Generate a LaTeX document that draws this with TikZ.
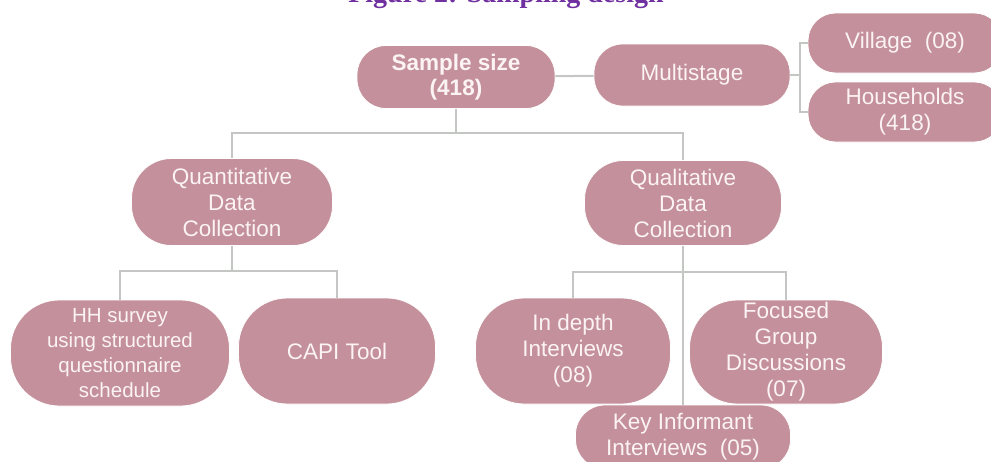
\documentclass[tikz,border=0pt]{standalone}
\usepackage{fontspec}
\setmainfont{Liberation Sans}
\newfontfamily\titlefont{Liberation Serif}
\definecolor{boxfill}{HTML}{C4909B}
\definecolor{boxtext}{HTML}{FBF3F4}
\definecolor{linkgray}{HTML}{C3C6C3}
\definecolor{titlepurple}{HTML}{7030A0}
\tikzset{
  box/.style={draw=white, line width=0.8pt, fill=boxfill, text=boxtext,
    align=center, inner sep=0pt, font=\fontsize{22.5}{26}\selectfont},
  pill/.style 2 args={box, minimum width=#1pt, minimum height=#2pt,
    rounded corners=0.46*#2pt},
  small/.style={font=\fontsize{20.5}{25}\selectfont},
  link/.style={draw=linkgray, line width=2pt},
  figtitle/.style={text=titlepurple, font=\titlefont\bfseries\fontsize{28}{30}\selectfont},
}

\begin{document}
\begin{tikzpicture}[x=1pt, y=-1pt]
\useasboundingbox (0,0) rectangle (991,461);
\clip (0,0) rectangle (991,461);
\node[figtitle, anchor=base] (title) at (506,2.5) {Figure 2: Sampling design};

% top level
\node[pill={198}{63}, font=\bfseries\fontsize{22.5}{25}\selectfont] (size) at (456,77) {Sample size\\(418)};
\node[pill={196}{62}] (multi) at (692,75) {Multistage};
\node[pill={194}{60}] (village) at (905,43) {Village\ \ (08)};
\node[pill={194}{60}] (house) at (905,112) {Households\\(418)};

% data collection
\node[pill={201}{87}] (quant) at (232,202) {Quantitative\\Data\\Collection};
\node[pill={197}{85}] (qual) at (683,203) {Qualitative\\Data\\Collection};

% methods
\node[pill={219}{106}, small] (hh) at (120,353) {HH survey\\using structured\\questionnaire\\schedule};
\node[pill={197}{106}] (capi) at (337,351) {CAPI Tool};
\node[pill={195}{106}] (indepth) at (573,351) {In depth\\Interviews\\(08)};
\node[pill={193}{104}] (focus) at (786,352) {Focused\\Group\\Discussions\\(07)};
\node[pill={215}{64}] (key) at (683,437) {Key Informant\\Interviews\ \ (05)};

% connectors
\coordinate (mfork) at (800,75);
\coordinate (sfork) at (456,133);
\coordinate (qfork) at (232,271);
\coordinate (lfork) at (683,272);
\draw[link] (size) -- (multi);
\draw[link] (multi) -- (mfork) |- (village);
\draw[link] (mfork) |- (house);
\draw[link] (size) -- (sfork) -| (quant);
\draw[link] (sfork) -| (qual);
\draw[link] (quant) -- (qfork) -| (hh);
\draw[link] (qfork) -| (capi);
\draw[link] (qual) -- (key);
\draw[link] (lfork) -| (indepth);
\draw[link] (lfork) -| (focus);
\end{tikzpicture}
\end{document}
